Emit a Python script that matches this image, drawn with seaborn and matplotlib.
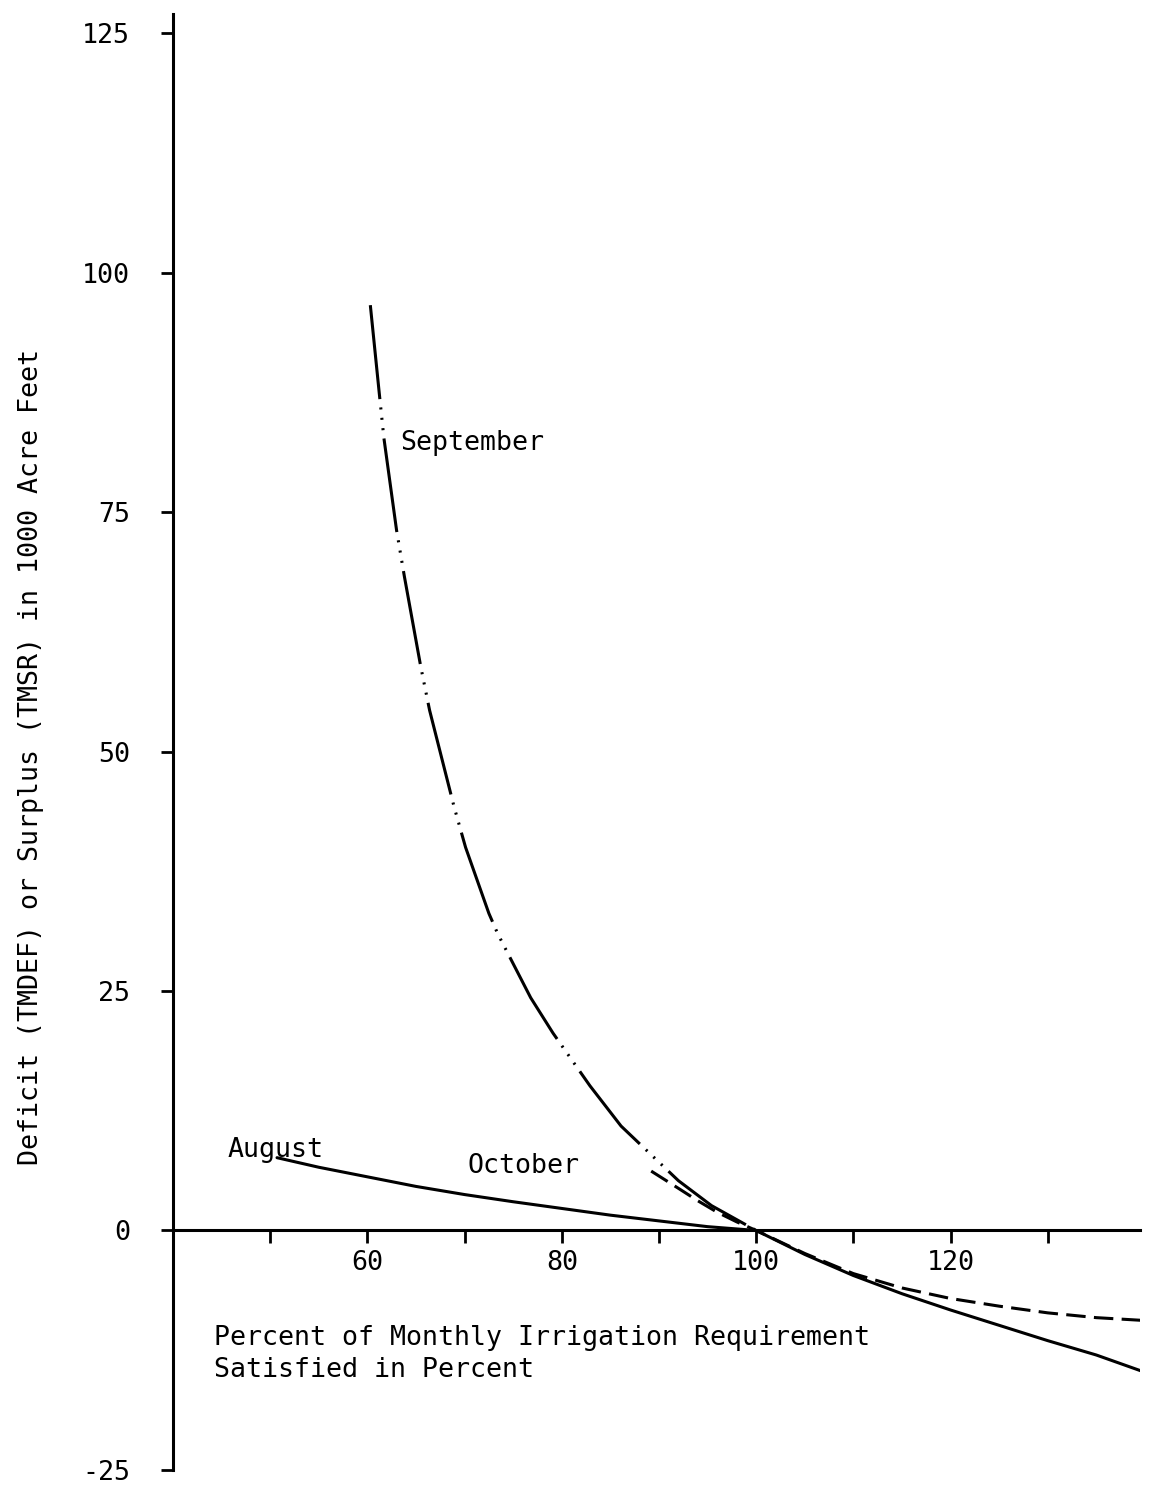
import pandas as pd
import matplotlib
matplotlib.use("Agg")
import matplotlib.pyplot as plt
import seaborn as sns

# values
sep_x = [60.3, 61.2, 61.7, 63.0, 63.8, 65.5, 66.4, 68.9, 70.1, 72.5, 73.4, 76.8, 79.1, 82.9, 86.1, 92.0, 95.4, 100.0]
sep_y = [96.6, 87.6, 82.7, 73.1, 68.3, 58.8, 54.3, 44.3, 40.0, 33.1, 31.0, 24.3, 20.6, 15.1, 10.9, 5.2, 2.6, 0.0]
sep_tail_x = [100, 105, 110, 115, 120, 125, 130, 135, 140]
sep_tail_y = [0.0, -2.5, -4.7, -6.6, -8.3, -9.9, -11.5, -13.0, -14.8]

aug_x = [50.7, 55, 60, 65, 70, 75, 80, 85, 90, 95, 100]
aug_y = [7.6, 6.6, 5.6, 4.6, 3.75, 3.0, 2.3, 1.6, 1.0, 0.4, 0.0]

oct_x = [89.2, 92, 94, 96, 98, 100, 105, 110, 115, 120, 125, 130, 135, 140]
oct_y = [6.2, 4.4, 3.1, 1.9, 0.9, 0.0, -2.4, -4.5, -6.0, -7.1, -7.9, -8.6, -9.1, -9.4]

x_ticks = [50, 60, 70, 80, 90, 100, 110, 120, 130]
x_tick_labels = ["", "60", "", "80", "", "100", "", "120", ""]
y_ticks = [125, 100, 75, 50, 25, 0, -25]

sns.set_theme(style="white")
plt.rcParams["font.family"] = ["DejaVu Sans Mono"]
plt.rcParams["lines.scale_dashes"] = False
plt.rcParams.update({"text.color": "black", "axes.labelcolor": "black",
                     "xtick.color": "black", "ytick.color": "black"})

fs = 19.2
fig = plt.figure(figsize=(11.49, 14.86), dpi=100)
ax = fig.add_axes([0.1506, 0.0108, 0.8416, 0.9798])

lw = 2.2
sns.lineplot(x=sep_x, y=sep_y, color="black", linewidth=lw, estimator=None, ax=ax,
             linestyle=(0, (68, 6, 1.5, 6, 1.5, 6, 1.5, 6)))
sns.lineplot(x=sep_tail_x, y=sep_tail_y, color="black", linewidth=lw, estimator=None, ax=ax)
sns.lineplot(x=aug_x, y=aug_y, color="black", linewidth=lw, estimator=None, ax=ax)
sns.lineplot(x=oct_x, y=oct_y, color="black", linewidth=lw, estimator=None, ax=ax,
             linestyle=(0, (14, 6)))

ax.set_xlim(40, 139.5)
ax.set_ylim(-25, 127)

for s in ["top", "right"]:
    ax.spines[s].set_visible(False)
ax.spines["bottom"].set_position(("data", 0))
for s in ["left", "bottom"]:
    ax.spines[s].set_color("black")
    ax.spines[s].set_linewidth(2.2)

ax.set_xticks(x_ticks)
ax.set_xticklabels(x_tick_labels)
ax.set_yticks(y_ticks)
ax.set_yticklabels([str(v) for v in y_ticks])
ax.tick_params(axis="x", direction="out", length=9, width=2, color="black",
               labelsize=fs, pad=5, bottom=True)
ax.tick_params(axis="y", direction="out", length=9, width=2, color="black",
               labelsize=fs, pad=22, left=True)

ax.set_xlabel("")
ax.set_ylabel("Deficit (TMDEF) or Surplus (TMSR) in 1000 Acre Feet", fontsize=fs)
ax.yaxis.set_label_coords(-0.133, 0.49)

ax.text(63.4, 82.2, "September", fontsize=fs, ha="left", va="center")
ax.text(45.6, 8.4, "August", fontsize=fs, ha="left", va="center")
ax.text(70.3, 6.7, "October", fontsize=fs, ha="left", va="center")
ax.text(44.2, -9.9, "Percent of Monthly Irrigation Requirement\nSatisfied in Percent",
        fontsize=fs, ha="left", va="top", linespacing=1.3)

plt.savefig("out.png", dpi=100)
